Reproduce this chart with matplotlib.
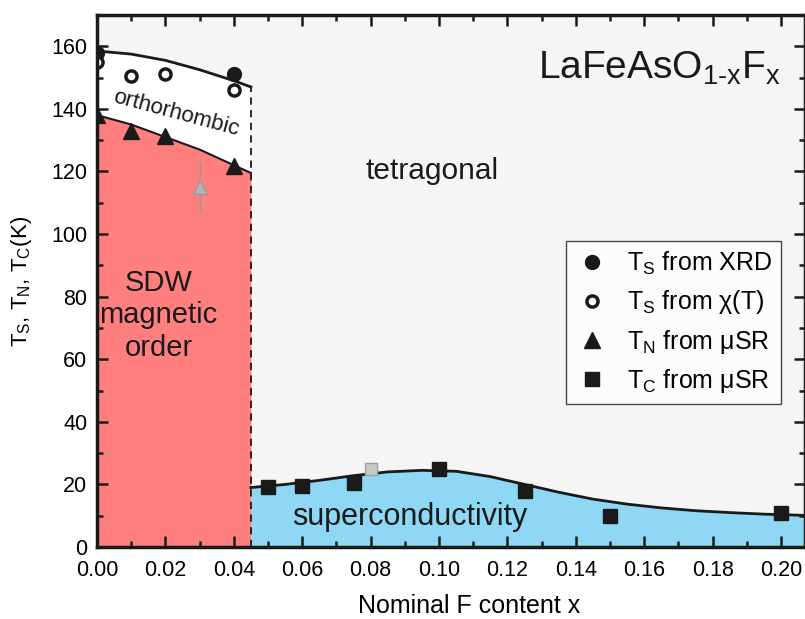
import matplotlib
matplotlib.use('Agg')
import matplotlib.pyplot as plt
from matplotlib.ticker import MultipleLocator

plt.rcParams['font.family'] = ['Liberation Sans', 'DejaVu Sans']
plt.rcParams['mathtext.fontset'] = 'custom'
plt.rcParams['mathtext.rm'] = 'Liberation Sans'
plt.rcParams['mathtext.it'] = 'Liberation Sans'

# Messpunkte
ts_xrd_x = [0.0, 0.04]
ts_xrd_y = [158, 151]
ts_chi_x = [0.0, 0.01, 0.02, 0.04]
ts_chi_y = [155, 150.5, 151, 146]
tn_x = [0.0, 0.01, 0.02, 0.04]
tn_y = [138, 133, 131.3, 121.7]
tn_grau_x = [0.03]
tn_grau_y = [115]
tn_grau_err = [8]
tc_x = [0.05, 0.06, 0.075, 0.10, 0.125, 0.15, 0.20]
tc_y = [19.3, 19.5, 20.5, 24.8, 18, 10, 11]
tc_grau_x = [0.08]
tc_grau_y = [24.8]

# Phasengrenzen (Hilfslinien)
ts_linie_x = [0.0, 0.01, 0.02, 0.03, 0.04, 0.045]
ts_linie_y = [158.5, 157.5, 155.5, 152.5, 149, 147]
tn_linie_x = [0.0, 0.01, 0.02, 0.03, 0.04, 0.045]
tn_linie_y = [138, 135, 131, 127, 122, 119.5]
sc_x = [0.045, 0.055, 0.065, 0.075, 0.085, 0.095, 0.105, 0.115, 0.125, 0.135,
        0.145, 0.155, 0.165, 0.175, 0.185, 0.195, 0.207]
sc_y = [19, 20, 21.3, 22.8, 24, 24.5, 24.2, 22.5, 20, 17.5,
        15.3, 13.7, 12.5, 11.6, 11, 10.5, 10.1]
x_grenze = 0.045

fig = plt.figure(figsize=(8.05, 6.19), dpi=100)
ax = fig.add_axes([0.1205, 0.1163, 0.8795, 0.8595])
ax.set_facecolor('#f4f5f4')

ax.fill_between(tn_linie_x, 0, tn_linie_y, color='#ff7f7f', lw=0, zorder=1)
ax.fill_between(ts_linie_x, tn_linie_y, ts_linie_y, color='white', lw=0, zorder=1)
ax.fill_between(sc_x, 0, sc_y, color='#8fd8f5', lw=0, zorder=1)

ax.plot(ts_linie_x, ts_linie_y, color='#1a1a1a', lw=2, zorder=2)
ax.plot(tn_linie_x, tn_linie_y, color='#1a1a1a', lw=1.5, zorder=2)
ax.plot(sc_x, sc_y, color='#1a1a1a', lw=2, zorder=2)
ax.plot([x_grenze, x_grenze], [0, ts_linie_y[-1]], color='#1a1a1a', lw=1.3,
        ls=(0, (4, 3)), zorder=2)

ax.errorbar(tn_grau_x, tn_grau_y, yerr=tn_grau_err, fmt='^', ms=10, color='#b5b5b5',
            mec='#999999', ecolor='#999999', elinewidth=1, capsize=0, zorder=3)
ax.errorbar(tc_grau_x, tc_grau_y, yerr=[1], fmt='s', ms=9, color='#c8c8c8',
            mec='#a0a0a0', ecolor='#888888', elinewidth=1, capsize=0, zorder=3)

ax.plot(ts_xrd_x, ts_xrd_y, 'o', ms=10, color='#1a1a1a', ls='none', zorder=4,
        label=r'T$_\mathrm{S}$ from XRD')
ax.plot(ts_chi_x, ts_chi_y, 'o', ms=8, mfc='white', mec='#1a1a1a', mew=2.5, ls='none',
        zorder=4, label=r'T$_\mathrm{S}$ from χ(T)')
ax.plot(tn_x, tn_y, '^', ms=11, color='#1a1a1a', ls='none', zorder=4,
        label=r'T$_\mathrm{N}$ from μSR')
ax.plot(tc_x, tc_y, 's', ms=10, color='#1a1a1a', ls='none', zorder=4,
        label=r'T$_\mathrm{C}$ from μSR')

ax.text(0.0231, 138.5, 'orthorhombic', fontsize=16, rotation=-15, ha='center', va='center',
        color='#1a1a1a', zorder=5)
ax.text(0.098, 120, 'tetragonal', fontsize=21.5, ha='center', va='center', color='#1a1a1a')
ax.text(0.018, 74, 'SDW\nmagnetic\norder', fontsize=21, ha='center', va='center',
        color='#1a1a1a', linespacing=1.2)
ax.text(0.0915, 9.5, 'superconductivity', fontsize=22, ha='center', va='center',
        color='#1a1a1a', zorder=5)
ax.text(0.2, 153, r'LaFeAsO$_{\mathrm{1\text{-}x}}$F$_\mathrm{x}$', fontsize=28,
        ha='right', va='center', color='#1a1a1a')

leg = ax.legend(loc='upper left', bbox_to_anchor=(0.6624, 0.575), fontsize=18,
                frameon=True, fancybox=False, edgecolor='#1a1a1a', handletextpad=0.75,
                borderpad=0.35, labelspacing=0.45, handlelength=1.35, borderaxespad=0)
leg.get_frame().set_linewidth(1)
leg.get_frame().set_facecolor('white')

ax.set_xlim(0, 0.207)
ax.set_ylim(0, 170)
ax.xaxis.set_major_locator(MultipleLocator(0.02))
ax.xaxis.set_minor_locator(MultipleLocator(0.01))
ax.yaxis.set_major_locator(MultipleLocator(20))
ax.yaxis.set_minor_locator(MultipleLocator(10))
ax.xaxis.set_major_formatter(plt.FormatStrFormatter('%.2f'))
ax.tick_params(which='both', direction='in', top=True, right=True, labelsize=15.5,
               color='#1a1a1a', width=1.8, zorder=6)
ax.tick_params(which='major', length=8)
ax.tick_params(which='minor', length=4.5)
ax.tick_params(axis='x', pad=9)
ax.tick_params(axis='y', pad=7)
for s in ax.spines.values():
    s.set_linewidth(2.5)
    s.set_color('#1a1a1a')
    s.set_zorder(6)

ax.set_xlabel('Nominal F content x', fontsize=18, labelpad=10)
ax.xaxis.label.set_x(0.525)
ax.set_ylabel(r'T$_\mathrm{S}$, T$_\mathrm{N}$, T$_\mathrm{C}$(K)', fontsize=16, labelpad=12)

fig.savefig('out.png', dpi=100)
